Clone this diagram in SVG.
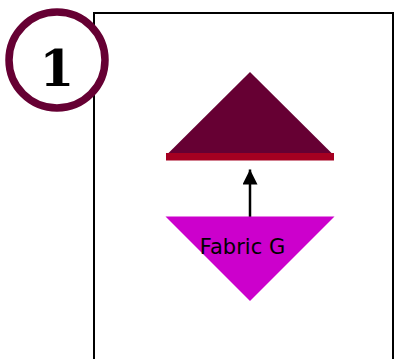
<svg xmlns="http://www.w3.org/2000/svg" width="395" height="359" viewBox="0 0 395 359">
<defs>
<style>
.frame{fill:#fff;stroke:#000;stroke-width:2}
.lbl{font-family:"DejaVu Sans",sans-serif;font-size:21px;fill:#000}
</style>
<marker id="ah" markerWidth="16" markerHeight="16" refX="15" refY="7.5" orient="auto" markerUnits="userSpaceOnUse">
<path d="M0,0 L15,7.5 L0,15 Z" fill="#000"/>
</marker>
</defs>
<rect width="395" height="359" fill="#fff"/>
<rect class="frame" x="94" y="13" width="299" height="360"/>
<g id="badge">
<circle cx="57" cy="60" r="48" fill="#fff" stroke="#660033" stroke-width="7.5"/>
<text x="57" y="86" text-anchor="middle" font-family="'DejaVu Serif',serif" font-weight="bold" font-size="50" fill="#000">1</text>
</g>
<g id="connectors">
<line x1="250" y1="217" x2="250" y2="169.5" stroke="#000" stroke-width="2.5" marker-end="url(#ah)"/>
</g>
<g id="top-node">
<polygon points="250,72 168.5,153 331.5,153" fill="#660033"/>
<rect x="166" y="153" width="168" height="7.5" fill="#A50021"/>
</g>
<g id="fabric-g">
<polygon points="165.5,216.5 334.5,216.5 250,301" fill="#CC00CC"/>
<text class="lbl" x="242.5" y="254" text-anchor="middle">Fabric G</text>
</g>
</svg>
